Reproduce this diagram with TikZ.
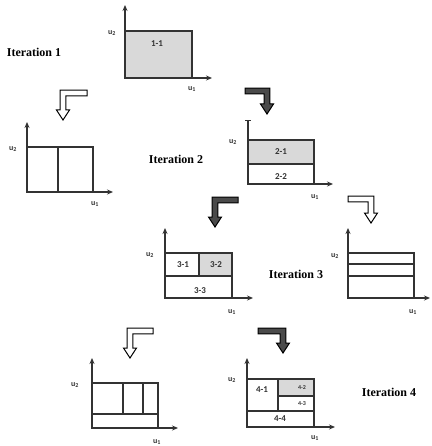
\documentclass[tikz,border=0pt]{standalone}
\usepackage{fontspec}
\setmainfont{Liberation Serif}
\newfontfamily\lblfont{Carlito}
\usetikzlibrary{arrows.meta}
\definecolor{ln}{HTML}{333333}
\definecolor{shade}{HTML}{D9D9D9}
\definecolor{darrow}{HTML}{4A4A4A}
\newcommand\elbowR[4]{% x0, xc, y0, yt : right then down
  (#1,{#3-2.8}) -- ({#2+2.8},{#3-2.8}) -- ({#2+2.8},{#4-10}) -- ({#2+6.5},{#4-10}) -- (#2,#4)
  -- ({#2-6.5},{#4-10}) -- ({#2-2.8},{#4-10}) -- ({#2-2.8},{#3+2.8}) -- (#1,{#3+2.8}) -- cycle}
\newcommand\elbowL[4]{% x0, xc, y0, yt : left then down
  (#1,{#3-2.8}) -- ({#2-2.8},{#3-2.8}) -- ({#2-2.8},{#4-10}) -- ({#2-6.5},{#4-10}) -- (#2,#4)
  -- ({#2+6.5},{#4-10}) -- ({#2+2.8},{#4-10}) -- ({#2+2.8},{#3+2.8}) -- (#1,{#3+2.8}) -- cycle}
\newcommand\uu[1]{u\textsubscript{#1}}
\begin{document}
\begin{tikzpicture}[x=1pt,y=-1pt,
  box/.style={draw=ln,line width=1.3pt},
  shaded/.style={box,fill=shade},
  axis/.style={draw=ln,line width=1.3pt,-{Stealth[length=6pt,width=5pt]}},
  tick/.style={draw=ln,line width=1.3pt,-{Bar[width=6pt]}},
  ulbl/.style={font=\lblfont\bfseries\fontsize{8}{9}\selectfont,text=ln,inner sep=0pt},
  cell/.style={font=\lblfont\bfseries\fontsize{9}{10}\selectfont,text=ln,inner sep=0pt},
  small/.style={font=\lblfont\bfseries\fontsize{6}{7}\selectfont,text=ln,inner sep=0pt},
  iter/.style={font=\bfseries\fontsize{12}{14}\selectfont,inner sep=0pt},
  hollow/.style={draw=black,fill=white,line width=1pt,line join=miter},
  dark/.style={draw=black,fill=darrow,line width=1pt,line join=miter}]
\useasboundingbox[fill=white] (0,0) rectangle (431,446);

% ---------- Iteration 1
\node[iter] (it1) at (34,52) {Iteration 1};
\draw[shaded] (125,31) rectangle (192,78);
\node[cell] (c11) at (157,44) {1-1};
\draw[axis] (125,78) -- (125,5);
\draw[axis] (125,78) -- (212,78);
\node[ulbl] (p1u2) at (112,33) {\uu2};
\node[ulbl] (p1u1) at (192,89) {\uu1};

% ---------- arrows to iteration 2
\draw[hollow] \elbowL{87}{63}{93}{120};
\draw[dark] \elbowR{245}{267}{91}{114};

% ---------- Iteration 2 left
\draw[box] (27,147) rectangle (93,192);
\draw[box] (58,147) -- (58,192);
\draw[axis] (27,192) -- (27,122);
\draw[axis] (27,192) -- (113,192);
\node[ulbl] (p2u2) at (13,149) {\uu2};
\node[ulbl] (p2u1) at (95,204) {\uu1};

\node[iter] (it2) at (176,159) {Iteration 2};

% ---------- Iteration 2 right
\draw[shaded] (248,140) rectangle (314,164);
\draw[box] (248,164) rectangle (314,184);
\draw[tick] (248,184) -- (248,120);
\draw[axis] (248,184) -- (333,184);
\node[cell] (c21) at (281,152) {2-1};
\node[cell] (c22) at (281,177) {2-2};
\node[ulbl] (p3u2) at (233,142) {\uu2};
\node[ulbl] (p3u1) at (315,197) {\uu1};

% ---------- arrows to iteration 3
\draw[dark] \elbowL{238}{215}{200}{227};
\draw[hollow] \elbowR{348}{371}{199}{223};

% ---------- Iteration 3 left
\draw[box] (165,253) rectangle (199,276);
\draw[shaded] (199,253) rectangle (232,276);
\draw[box] (165,276) rectangle (232,298);
\draw[axis] (165,298) -- (165,228);
\draw[axis] (165,298) -- (253,298);
\node[cell] (c31) at (183,265) {3-1};
\node[cell] (c32) at (216,265) {3-2};
\node[cell] (c33) at (200,291) {3-3};
\node[ulbl] (p4u2) at (150,255) {\uu2};
\node[ulbl] (p4u1) at (232,312) {\uu1};

\node[iter] (it3) at (296,274) {Iteration 3};

% ---------- Iteration 3 right
\draw[box] (348,253) rectangle (414,298);
\draw[box] (348,264) -- (414,264);
\draw[box] (348,276) -- (414,276);
\draw[axis] (348,298) -- (348,228);
\draw[axis] (348,298) -- (430,298);
\node[ulbl] (p5u2) at (335,256) {\uu2};
\node[ulbl] (p5u1) at (413,312) {\uu1};

% ---------- arrows to iteration 4
\draw[hollow] \elbowL{153}{130}{331}{358};
\draw[dark] \elbowR{258}{283}{331}{353};

% ---------- Iteration 4 left
\draw[box] (92,383) rectangle (158,428);
\draw[box] (92,414) -- (158,414);
\draw[box] (123,383) -- (123,414);
\draw[box] (143,383) -- (143,414);
\draw[axis] (92,428) -- (92,358);
\draw[axis] (92,428) -- (178,428);
\node[ulbl] (p6u2) at (75,385) {\uu2};
\node[ulbl] (p6u1) at (157,442) {\uu1};

% ---------- Iteration 4 right
\draw[box] (247,379) rectangle (314,427);
\draw[shaded] (278,379) rectangle (314,396);
\draw[box] (247,411) -- (314,411);
\draw[box] (278,379) -- (278,411);
\draw[axis] (247,427) -- (247,358);
\draw[axis] (247,427) -- (335,427);
\node[cell] (c41) at (262,390) {4-1};
\node[small] (c42) at (302,388) {4-2};
\node[small] (c43) at (302,404) {4-3};
\node[cell] (c44) at (280,419) {4-4};
\node[ulbl] (p7u2) at (232,380) {\uu2};
\node[ulbl] (p7u1) at (315,438) {\uu1};

\node[iter] (it4) at (389,392) {Iteration 4};
\end{tikzpicture}
\end{document}
